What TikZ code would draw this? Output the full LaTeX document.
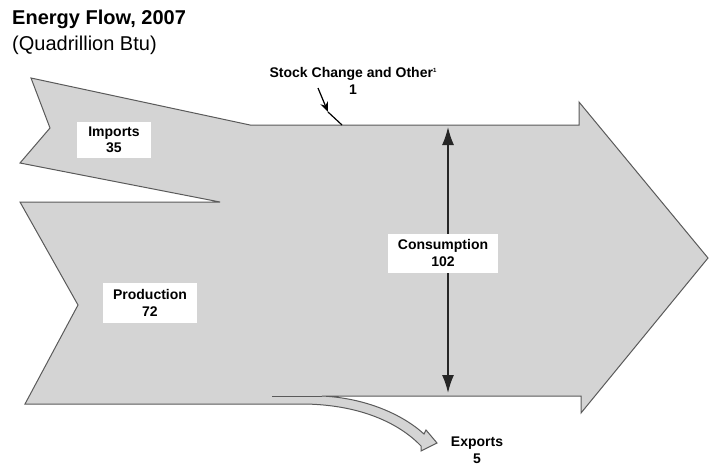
\documentclass[tikz,border=0pt]{standalone}
\usepackage{fontspec}
\setmainfont{Liberation Sans}
\usetikzlibrary{arrows.meta}
\definecolor{flowgray}{RGB}{212,212,212}
\definecolor{edgegray}{RGB}{90,90,90}
\tikzset{
  flow/.style={fill=flowgray, draw=edgegray, line width=1pt, line join=miter},
  edgeline/.style={draw=edgegray, line width=1pt},
  labelbox/.style={fill=white, inner sep=2pt, align=center, font=\fontsize{14}{16.5}\selectfont\bfseries},
  plainlabel/.style={inner sep=0pt, align=center, font=\fontsize{14}{16.5}\selectfont\bfseries},
  dimarrow/.style={line width=1.6pt, draw=black!85, {Latex[length=18pt,width=12pt]}-{Latex[length=18pt,width=12pt]}},
}
\begin{document}
\begin{tikzpicture}[x=1pt,y=-1pt]
\useasboundingbox (0,0) rectangle (709,469);
% title
\node[anchor=base west, inner sep=0pt, font=\fontsize{20}{24}\selectfont\bfseries] (title) at (12,24) {Energy Flow, 2007};
\node[anchor=base west, inner sep=0pt, font=\fontsize{20}{24}\selectfont] (unit) at (12,50) {(Quadrillion Btu)};
% main flow shape
\path[flow] (31,78) -- (250,125) -- (579,125) -- (579,102) -- (708,258) -- (581,413) -- (581,396)
  -- (322,396) .. controls (365,398) and (402,414) .. (424,434)
  -- (426,430) -- (437,443) -- (421,451) -- (421,446)
  .. controls (400,424) and (362,405) .. (305,404)
  -- (25,404) -- (78,305) -- (20,202) -- (220,202) -- (20,163) -- (50,128) -- cycle;
\draw[edgeline] (272,396) -- (322,396);
% consumption
\coordinate (ctop) at (448,127);
\coordinate (cbot) at (448,393);
\draw[dimarrow] (ctop) -- (cbot);
\node[labelbox, minimum width=110pt, minimum height=39pt] (cons) at (443,253) {Consumption\\102};
% imports and production
\node[labelbox, minimum width=74pt, minimum height=36pt] (imp) at (114,140) {Imports\\35};
\node[labelbox, minimum width=94pt, minimum height=40pt] (prod) at (150,303) {Production\\72};
% stock change
\node[plainlabel] (stock) at (353,81) {Stock Change and Other\raisebox{5pt}{\fontsize{6}{6}\selectfont 1}\\1};
\coordinate (s0) at (318,88);
\coordinate (s1) at (328,112);
\coordinate (s2) at (342,125);
\draw[line width=1.2pt, -{Stealth[length=10pt,width=8pt]}] (s0) -- (s1);
\draw[line width=1.2pt] (s1) -- (s2);
% exports
\node[plainlabel] (exp) at (477,450) {Exports\\5};
\end{tikzpicture}
\end{document}
